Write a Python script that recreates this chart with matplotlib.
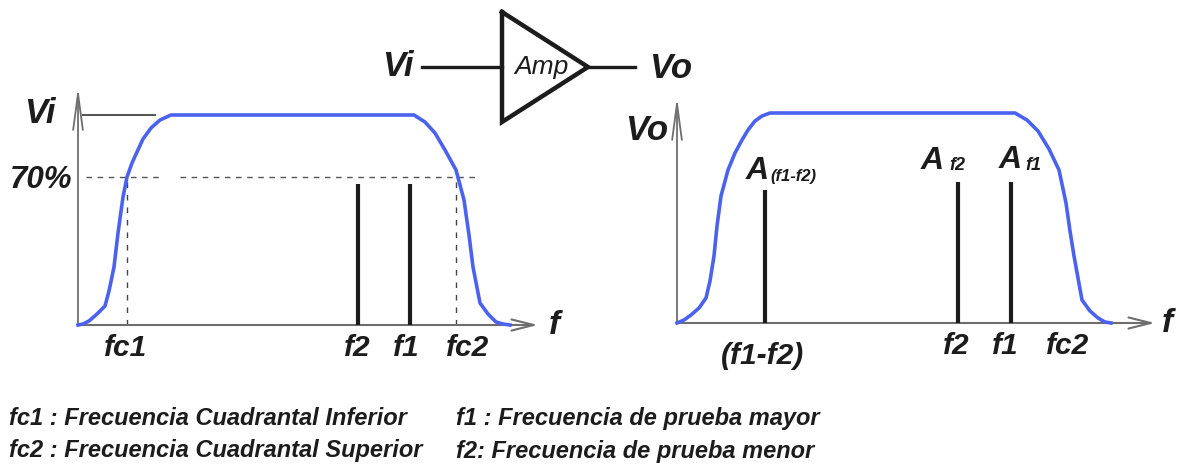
import matplotlib
matplotlib.use("Agg")
import matplotlib.pyplot as plt

plt.rcParams['font.family'] = ['Liberation Sans', 'DejaVu Sans']

W, H = 1180, 465
BLUE = '#4a62ee'
INK = '#1c1c1c'
AXIS = '#6e6e6e'

# Response curves: frequency / level
in_freq = [0, 5, 11, 19, 27, 31, 36, 40, 45, 49, 54, 59, 65, 73, 82, 93, 336, 347, 357, 367, 378, 386, 391, 395, 402, 410, 418, 425, 432]
in_level = [0, 1, 4, 11, 19, 34, 58, 92, 128, 148, 162, 173, 186, 197, 205, 210, 210, 203, 192, 175, 155, 125, 90, 58, 22, 11, 3, 1, 0]
out_freq = [0, 7, 14, 22, 29, 33, 37, 40, 44, 51, 58, 65, 71, 78, 85, 93, 338, 350, 361, 372, 382, 389, 393, 397, 405, 413, 421, 428, 434]
out_level = [0, 3, 8, 15, 25, 42, 67, 97, 127, 153, 170, 183, 193, 202, 207, 210, 210, 203, 192, 174, 153, 120, 92, 67, 23, 12, 5, 1, 0]

# Test tones
in_tone_freq = [280, 332]
in_tone_level = [141, 141]
out_tone_freq = [88, 281, 334]
out_tone_level = [133, 141, 141]

# Markers on the input plot
fc_freq = [49, 378]
level_70 = 148
level_vi = 210

in_tick_labels = ['fc1', 'f2', 'f1', 'fc2']
out_tick_labels = ['(f1-f2)', 'f2', 'f1', 'fc2']
legend_left = ['fc1 : Frecuencia Cuadrantal Inferior', 'fc2 : Frecuencia Cuadrantal Superior']
legend_right = ['f1 : Frecuencia de prueba mayor', 'f2: Frecuencia de prueba menor']

fig = plt.figure(figsize=(W / 100, H / 100), dpi=100, facecolor='white')


def panel(x0, y0, w, h):
    ax = fig.add_axes([x0 / W, (H - y0) / H, w / W, h / H])
    ax.set_xlim(0, w)
    ax.set_ylim(0, h)
    ax.axis('off')
    ax.patch.set_alpha(0)
    return ax


def axes_arrows(ax, xmax, ymax):
    hstyle = dict(arrowstyle='->,head_length=1.6,head_width=0.4', color=AXIS, lw=1.5,
                  shrinkA=0, shrinkB=0)
    vstyle = dict(arrowstyle='->,head_length=2.6,head_width=0.35', color=AXIS, lw=1.3,
                  shrinkA=0, shrinkB=0)
    ax.annotate('', xy=(xmax, 0), xytext=(0, 0), arrowprops=hstyle, annotation_clip=False)
    ax.annotate('', xy=(0, ymax), xytext=(0, 0), arrowprops=vstyle, annotation_clip=False)


left = panel(78, 325, 462, 240)
axes_arrows(left, 460, 238)
left.plot(in_freq, in_level, color=BLUE, lw=2.6, solid_joinstyle='round', clip_on=False, zorder=3)
left.vlines(in_tone_freq, 0, in_tone_level, color=INK, lw=3, zorder=4)
left.vlines(fc_freq, 0, level_70, color='#444444', lw=1, linestyles=(0, (4, 5)), zorder=2)
left.hlines(level_70, 8, 82, color='#555555', lw=1, linestyles=(0, (4, 4)))
left.hlines(level_70, 102, 398, color='#555555', lw=1, linestyles=(0, (4, 4)))
left.hlines(level_vi, 4, 78, color='#333333', lw=1.2)

right = panel(677, 323, 482, 228)
axes_arrows(right, 478, 226)
right.plot(out_freq, out_level, color=BLUE, lw=2.6, solid_joinstyle='round', clip_on=False, zorder=3)
right.vlines(out_tone_freq, 0, out_tone_level, color=INK, lw=3, zorder=4)

# Overlay in figure pixels for schematic and labels
top = fig.add_axes([0, 0, 1, 1])
top.set_xlim(0, W)
top.set_ylim(H, 0)
top.axis('off')
top.patch.set_alpha(0)

top.plot([502, 502, 588, 502], [12, 122, 67, 12], color=INK, lw=3.2, solid_joinstyle='miter')
top.plot([422, 502], [67, 67], color=INK, lw=2.4)
top.plot([588, 635], [67, 67], color=INK, lw=2.4)


def label(x, y, s, size, weight='bold', color=INK, ha='center'):
    top.text(x, y, s, fontsize=size, style='italic', weight=weight, color=color,
             ha=ha, va='center')


label(398, 66, 'Vi', 25)
label(671, 69, 'Vo', 25)
label(541, 67, 'Amp', 19, weight='normal')
label(40, 113, 'Vi', 25)
label(41, 180, '70%', 22.5)
label(647, 130, 'Vo', 25)
label(554, 325, 'f', 24)
label(1167, 323, 'f', 24)

for x, s in zip([126, 357, 406, 468], in_tick_labels):
    label(x, 348, s, 21.5)
for x, s in zip([763, 956, 1005, 1068], out_tick_labels):
    label(x, 346 if s != '(f1-f2)' else 356, s, 21.5)

label(746, 171, 'A', 23, ha='left')
label(770, 176, '(f1-f2)', 12, ha='left')
label(921, 161, 'A', 23, ha='left')
label(949, 165, 'f2', 13, ha='left')
label(999, 160, 'A', 23, ha='left')
label(1025, 165, 'f1', 13, ha='left')

for y, s in zip([418, 450], legend_left):
    label(9, y, s, 17, ha='left')
for y, s in zip([418, 451], legend_right):
    label(456, y, s, 17, ha='left')

fig.savefig('out.png', dpi=100, facecolor='white')
